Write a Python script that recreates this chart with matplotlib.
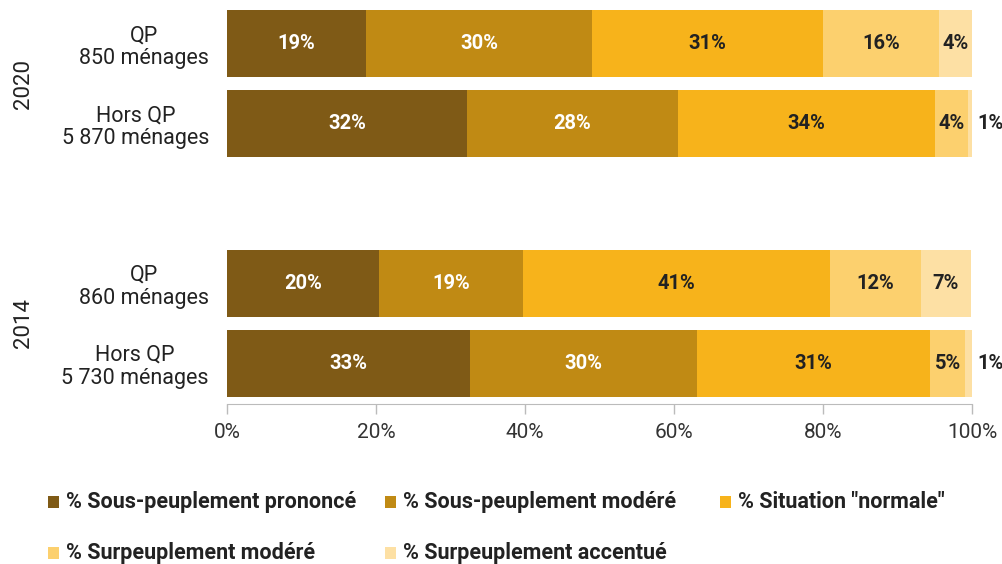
import matplotlib.pyplot as plt
from matplotlib.patches import Rectangle

plt.rcParams['font.family'] = ['Roboto', 'DejaVu Sans']

# rows, top to bottom
row_labels = ['QP\n850 ménages', 'Hors QP\n5 870 ménages', 'QP\n860 ménages', 'Hors QP\n5 730 ménages']
years = ['2020', '2014']
categories = ['% Sous-peuplement prononcé', '% Sous-peuplement modéré', '% Situation "normale"',
              '% Surpeuplement modéré', '% Surpeuplement accentué']

# shares per category, one value per row
sous_prononce = [18.7, 32.2, 20.4, 32.6]
sous_modere = [30.3, 28.3, 19.3, 30.5]
normale = [31.0, 34.5, 41.2, 31.3]
sur_modere = [15.6, 4.4, 12.2, 4.7]
sur_accentue = [4.4, 0.6, 6.8, 0.9]

# printed labels
lab_sous_prononce = ['19%', '32%', '20%', '33%']
lab_sous_modere = ['30%', '28%', '19%', '30%']
lab_normale = ['31%', '34%', '41%', '31%']
lab_sur_modere = ['16%', '4%', '12%', '5%']
lab_sur_accentue = ['4%', '1%', '7%', '1%']

series = [sous_prononce, sous_modere, normale, sur_modere, sur_accentue]
labels = [lab_sous_prononce, lab_sous_modere, lab_normale, lab_sur_modere, lab_sur_accentue]
colors = ['#7f5a16', '#c08a14', '#f7b31b', '#fcd06e', '#fde0a4']
text_colors = ['white', 'white', '#222222', '#222222', '#222222']

ypos = [0, 1, 3, 4]
bar_h = 0.84

fig = plt.figure(figsize=(10.02, 5.64), dpi=100)
ax = fig.add_axes([227 / 1002, 1 - 404 / 564, 745 / 1002, 394 / 564])

lefts = [0.0] * 4
for vals, labs, col, tcol in zip(series, labels, colors, text_colors):
    ax.barh(ypos, vals, left=lefts, height=bar_h, color=col, edgecolor='none')
    for y, v, l, lab in zip(ypos, vals, lefts, labs):
        if v < 2:
            # tiny segment: label outside the bar
            ax.text(100.7, y, lab, ha='left', va='center', fontsize=14.5, fontweight='bold',
                    color='#222222', clip_on=False)
        else:
            ax.text(l + v / 2, y, lab, ha='center', va='center', fontsize=14.5, fontweight='bold',
                    color=tcol)
    lefts = [a + b for a, b in zip(lefts, vals)]

ax.set_xlim(0, 100)
ax.set_ylim(4.506, -0.42)
ax.set_yticks(ypos)
ax.set_yticklabels(row_labels, fontsize=15.5, color='#222222', multialignment='center',
                   linespacing=1.15)
ax.tick_params(axis='y', length=0, pad=13)
ax.set_xticks([0, 20, 40, 60, 80, 100])
ax.set_xticklabels(['0%', '20%', '40%', '60%', '80%', '100%'], fontsize=15, color='#333333')
ax.tick_params(axis='x', length=7, color='#bbbbbb', width=1, pad=7)
for s in ['top', 'right', 'left']:
    ax.spines[s].set_visible(False)
ax.spines['bottom'].set_color('#bbbbbb')

# year labels
for yr, yc in zip(years, [0.5, 3.5]):
    ax.text(24 / 1002, yc, yr, rotation=90, ha='center', va='center', fontsize=16, color='#222222',
            transform=ax.get_yaxis_transform().__class__(fig.transFigure, ax.transData),
            clip_on=False)

# legend: two rows, placed like the reference
leg_rows = [502, 553]
leg_cols = [48, 385, 720]
for i, (cat, col) in enumerate(zip(categories, colors)):
    r, c = divmod(i, 3)
    x0 = leg_cols[c] / 1002
    yc = 1 - leg_rows[r] / 564
    fig.patches.append(Rectangle((x0, yc - 6 / 564), 11 / 1002, 12 / 564, transform=fig.transFigure,
                                 facecolor=col, edgecolor='none'))
    fig.text(x0 + 18 / 1002, yc, cat, ha='left', va='center', fontsize=15.5, fontweight='bold',
             color='#222222')

fig.savefig('out.png', dpi=100, facecolor='white')
